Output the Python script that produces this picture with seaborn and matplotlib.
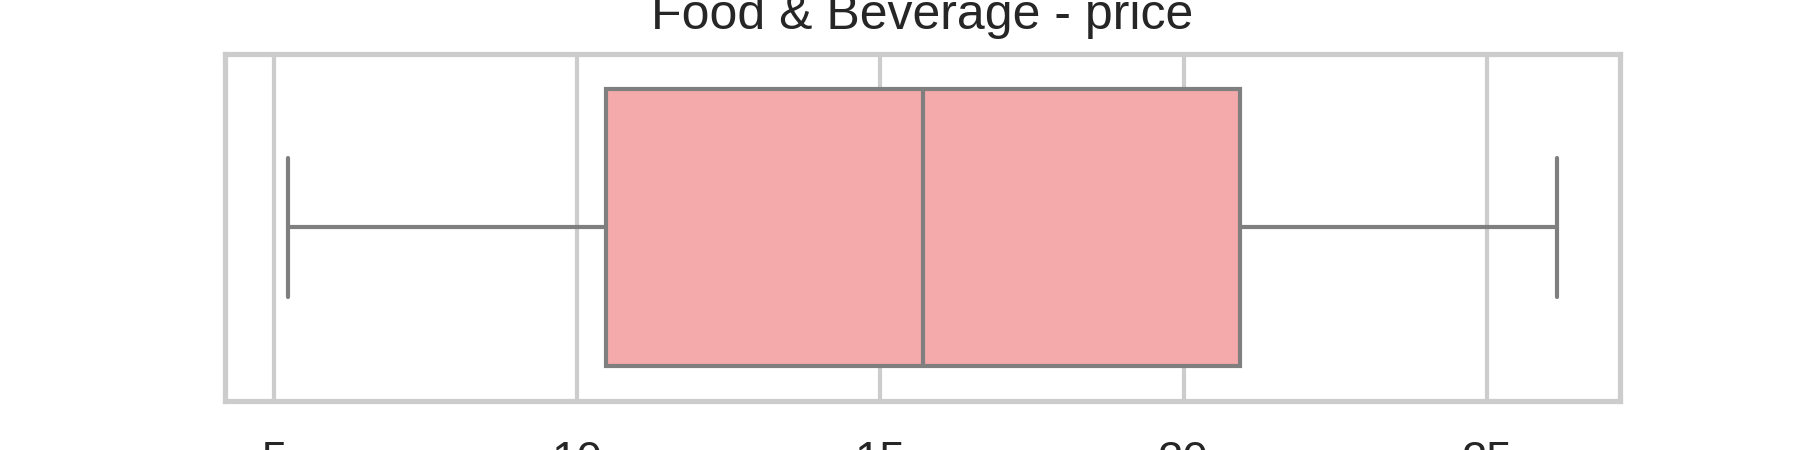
import matplotlib
matplotlib.use("Agg")
import matplotlib.pyplot as plt
import seaborn as sns

prices = [5.24, 10.47, 15.70, 20.93, 26.15]
title = "Food & Beverage - price"
box_color = "#f4aaaa"
line_color = "#7f7f7f"

sns.set_theme(style="whitegrid")
plt.rcParams["font.family"] = ["Liberation Sans", "DejaVu Sans"]

fig, ax = plt.subplots(figsize=(6, 1.5))
sns.boxplot(x=prices, color=box_color, saturation=1, linecolor=line_color,
            linewidth=1.0, ax=ax)

ax.set_title(title, fontsize=12, color="#262626")
ax.set_xticks([5, 10, 15, 20, 25])
ax.tick_params(axis="x", length=0, pad=9.5, labelsize=11)

fig.savefig("out.png", dpi=300)
